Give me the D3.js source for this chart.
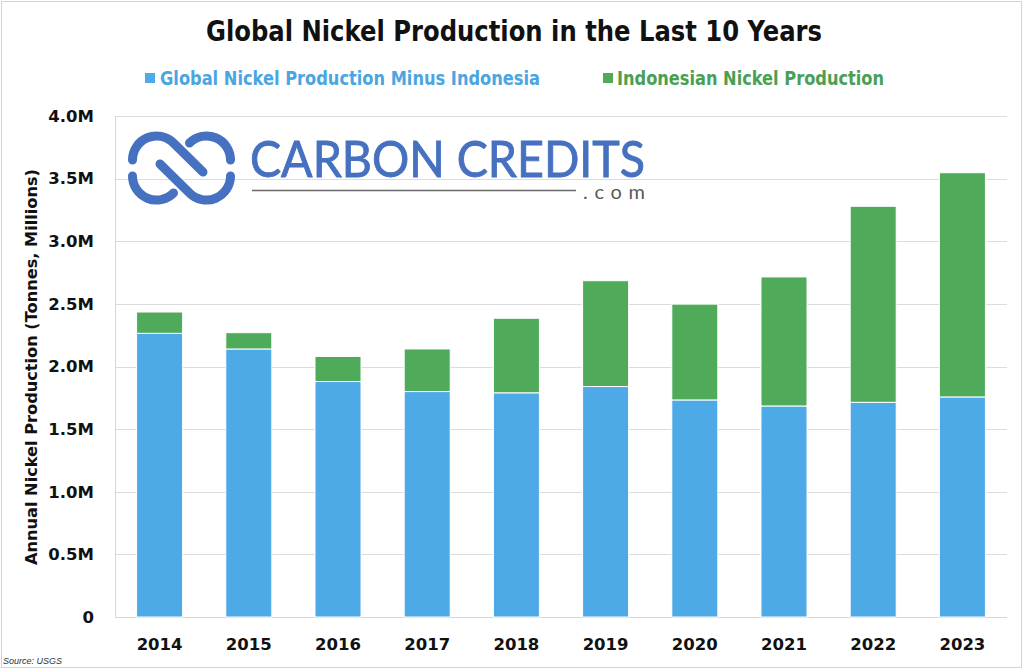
<!DOCTYPE html>
<html>
<head>
<meta charset="utf-8">
<script src="https://cdn.jsdelivr.net/npm/d3@7"></script>
<style>
  body { margin: 0; background: #fff; }
  svg { display: block; }
</style>
</head>
<body>
<div id="chart"></div>
<script>
// values in millions of tonnes
var years = ["2014", "2015", "2016", "2017", "2018", "2019", "2020", "2021", "2022", "2023"];
var restOfWorld = [2.265, 2.14, 1.88, 1.80, 1.79, 1.84, 1.733, 1.685, 1.714, 1.757];
var indonesia = [0.17, 0.13, 0.20, 0.34, 0.595, 0.845, 0.765, 1.03, 1.565, 1.79];
var yTicks = [0, 0.5, 1, 1.5, 2, 2.5, 3, 3.5, 4];
var seriesNames = ["Global Nickel Production Minus Indonesia", "Indonesian Nickel Production"];
var colors = ["#4eaae6", "#4fab5a"];
var legendText = ["#4aa5e2", "#4a9f55"];

var W = 1024, H = 669;
var plotLeft = 115, plotRight = 1007, plotTop = 116, plotBottom = 617;

var svg = d3.select("#chart").append("svg").attr("width", W).attr("height", H);

// frame round the picture
svg.append("rect").attr("x", 1.5).attr("y", 1.5).attr("width", W - 4).attr("height", H - 3)
  .attr("fill", "#fff").attr("stroke", "#d4d4d4");

var x = d3.scaleBand().domain(years).range([plotLeft, plotRight]).paddingInner(0.484).paddingOuter(0.242);
var y = d3.scaleLinear().domain([0, 4]).range([plotBottom, plotTop]);

// gridlines
svg.append("g").selectAll("line").data(yTicks.slice(1)).enter().append("line")
  .attr("x1", plotLeft).attr("x2", plotRight)
  .attr("y1", function(d) { return Math.round(y(d)) + 0.5; })
  .attr("y2", function(d) { return Math.round(y(d)) + 0.5; })
  .attr("stroke", "#dcdcdc").attr("stroke-width", 1);

svg.append("line").attr("x1", plotLeft + 0.5).attr("x2", plotLeft + 0.5).attr("y1", plotTop).attr("y2", plotBottom)
  .attr("stroke", "#d6d6d6");
svg.append("line").attr("x1", plotLeft).attr("x2", plotRight).attr("y1", plotBottom + 0.5).attr("y2", plotBottom + 0.5)
  .attr("stroke", "#d6d6d6");

// logo (over the grid, behind the bars)
var logo = svg.append("g");
var logoBlue = "#4670c0";
var arcs = [
  "M132.5,160 A24,24 0 0 1 173.5,143 L203,172",
  "M189.5,143 A24,24 0 0 1 230.5,160",
  "M132.5,176 A24,24 0 0 0 173.5,193",
  "M160,164 L189.5,193 A24,24 0 0 0 230.5,176"
];
logo.selectAll("path").data(arcs).enter().append("path")
  .attr("d", function(d) { return d; })
  .attr("fill", "none").attr("stroke", logoBlue)
  .attr("stroke-width", 9).attr("stroke-linecap", "round");
logo.append("text").attr("x", 250).attr("y", 177)
  .attr("textLength", 395).attr("lengthAdjust", "spacingAndGlyphs")
  .style("font-family", "Lato, 'Open Sans', sans-serif").style("font-size", "51px")
  .attr("fill", logoBlue).attr("stroke", logoBlue).attr("stroke-width", 0.9)
  .text("CARBON CREDITS");
logo.append("line").attr("x1", 252).attr("x2", 576).attr("y1", 190.5).attr("y2", 190.5)
  .attr("stroke", "#6a6a6a").attr("stroke-width", 1.5);
logo.append("text").attr("x", 583).attr("y", 199)
  .attr("textLength", 62).attr("lengthAdjust", "spacing")
  .style("font-family", "Lato, 'Open Sans', sans-serif").style("font-size", "20px")
  .attr("fill", "#5a5a5a").text(".com");

// stacked bars
var rows = years.map(function(yr, i) { return { year: yr, a: restOfWorld[i], b: indonesia[i] }; });
var stack = d3.stack().keys(["a", "b"])(rows);

svg.append("g").selectAll("g").data(stack).enter().append("g")
  .attr("fill", function(d, i) { return colors[i]; })
  .selectAll("rect").data(function(d) { return d; }).enter().append("rect")
  .attr("x", function(d) { return x(d.data.year); })
  .attr("width", x.bandwidth())
  .attr("y", function(d) { return y(d[1]); })
  .attr("height", function(d) { return y(d[0]) - y(d[1]); })
  .attr("stroke", "#fff").attr("stroke-width", 1);

// axes
var tickFont = "'DejaVu Sans', Verdana, sans-serif";
var yAxis = d3.axisLeft(y).tickValues(yTicks).tickSize(0).tickPadding(0)
  .tickFormat(function(d) { return d === 0 ? "0" : d3.format(".1f")(d) + "M"; });
var gy = svg.append("g").attr("transform", "translate(94,0)").call(yAxis);
gy.select(".domain").remove();
gy.selectAll("text").style("font-family", tickFont).style("font-size", "16.5px")
  .style("font-weight", "bold").attr("fill", "#111");

var xAxis = d3.axisBottom(x).tickSize(0).tickPadding(0);
var gx = svg.append("g").attr("transform", "translate(0,638)").call(xAxis);
gx.select(".domain").remove();
gx.selectAll("text").style("font-family", tickFont).style("font-size", "16.5px")
  .style("font-weight", "bold").attr("fill", "#111");

svg.append("text")
  .attr("transform", "translate(37,367) rotate(-90)")
  .attr("text-anchor", "middle")
  .attr("textLength", 396).attr("lengthAdjust", "spacingAndGlyphs")
  .style("font-family", tickFont).style("font-size", "16px").style("font-weight", "bold")
  .attr("fill", "#111")
  .text("Annual Nickel Production (Tonnes, Millions)");

// title
svg.append("text").attr("x", 514).attr("y", 41).attr("text-anchor", "middle")
  .attr("textLength", 616).attr("lengthAdjust", "spacingAndGlyphs")
  .style("font-family", "'Liberation Sans Narrow', 'DejaVu Sans Condensed', sans-serif")
  .style("font-size", "28px").style("font-weight", "bold").attr("fill", "#111")
  .text("Global Nickel Production in the Last 10 Years");

// legend
var legendPos = [{ sq: 145, tx: 160, w: 380 }, { sq: 603, tx: 617, w: 267 }];
var lg = svg.append("g").selectAll("g").data(seriesNames).enter().append("g");
lg.append("rect").attr("x", function(d, i) { return legendPos[i].sq; }).attr("y", 73)
  .attr("width", 10).attr("height", 10).attr("fill", function(d, i) { return colors[i]; });
lg.append("text").attr("x", function(d, i) { return legendPos[i].tx; }).attr("y", 85)
  .attr("textLength", function(d, i) { return legendPos[i].w; })
  .attr("lengthAdjust", "spacingAndGlyphs")
  .style("font-family", "'Liberation Sans Narrow', 'DejaVu Sans Condensed', sans-serif")
  .style("font-size", "19px").style("font-weight", "bold")
  .attr("fill", function(d, i) { return legendText[i]; })
  .text(function(d) { return d; });

svg.append("text").attr("x", 3).attr("y", 664)
  .style("font-family", "'Liberation Sans', Arial, sans-serif").style("font-size", "9px")
  .style("font-style", "italic").attr("fill", "#333").text("Source: USGS");
</script>
</body>
</html>
